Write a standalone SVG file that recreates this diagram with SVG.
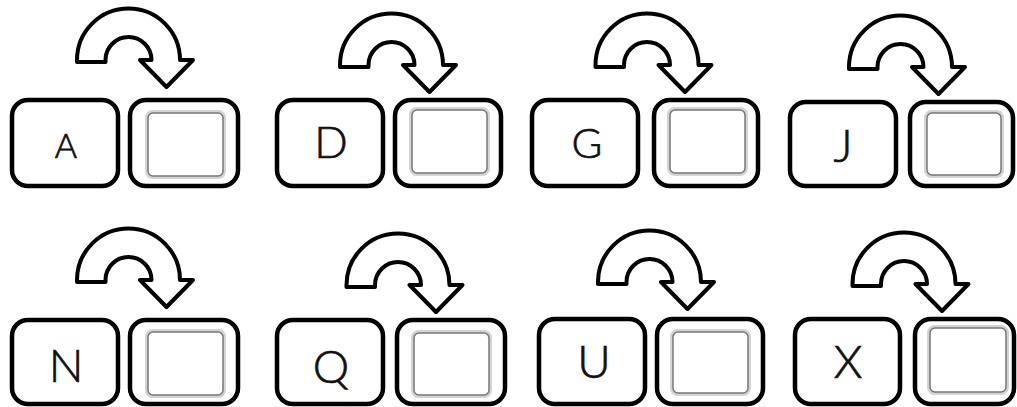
<svg xmlns="http://www.w3.org/2000/svg" width="1017" height="407" viewBox="0 0 1017 407">
<style>
.box{fill:#fff;stroke:#000;stroke-width:4.5}
.ans{fill:#fff;stroke:#000;stroke-width:4.5}
.inhalo{fill:none;stroke:#d4d4d4;stroke-width:3}
.in{fill:#fff;stroke:#777;stroke-width:1.5}
.arrow{fill:#fff;stroke:#000;stroke-width:4;stroke-linejoin:round}
.lbl{font-family:"Lato","Open Sans",sans-serif;font-weight:300;fill:#111;stroke:#111;stroke-width:0.7;text-anchor:middle}
</style>
<defs>
<path id="arr" d="M -51.5 2 L -51.5 0 A 51.5 51.5 0 0 1 51.5 0 L 64.5 0 L 38 27 L 11.5 0 L 23 0 A 23 23 0 0 0 -23 0 L -23 2 Z"/>
</defs>
<rect width="1017" height="407" fill="#fff"/>

<g id="node-A">
<rect class="box" x="12" y="100" width="106" height="86" rx="16"/>
<text class="lbl" x="66" y="158" font-size="34">A</text>
</g>
<g id="node-A-answer">
<rect class="ans" x="130" y="100" width="108" height="86" rx="16"/>
<rect class="inhalo" x="146.5" y="111.5" width="78" height="66" rx="6"/>
<rect class="in" x="148" y="113" width="75" height="63" rx="5"/>
</g>

<g id="node-D">
<rect class="box" x="277" y="100" width="106" height="86" rx="16"/>
<text class="lbl" x="331" y="158" font-size="44">D</text>
</g>
<g id="node-D-answer">
<rect class="ans" x="395" y="100" width="106" height="86" rx="16"/>
<rect class="inhalo" x="410.5" y="108.5" width="78" height="66" rx="6"/>
<rect class="in" x="412" y="110" width="75" height="63" rx="5"/>
</g>

<g id="node-G">
<rect class="box" x="532" y="100" width="106" height="86" rx="16"/>
<text class="lbl" x="587" y="158" font-size="42">G</text>
</g>
<g id="node-G-answer">
<rect class="ans" x="654" y="100" width="104" height="86" rx="16"/>
<rect class="inhalo" x="668.5" y="108.5" width="78" height="66" rx="6"/>
<rect class="in" x="670" y="110" width="75" height="63" rx="5"/>
</g>

<g id="node-J">
<rect class="box" x="790" y="102" width="106" height="84" rx="16"/>
<text class="lbl" x="843" y="162" font-size="46">J</text>
</g>
<g id="node-J-answer">
<rect class="ans" x="910" y="102" width="103" height="84" rx="16"/>
<rect class="inhalo" x="925.5" y="111.5" width="77" height="65" rx="6"/>
<rect class="in" x="927" y="113" width="74" height="62" rx="5"/>
</g>

<g id="node-N">
<rect class="box" x="12" y="320" width="106" height="84" rx="16"/>
<text class="lbl" x="66" y="382" font-size="46">N</text>
</g>
<g id="node-N-answer">
<rect class="ans" x="130" y="320" width="108" height="84" rx="16"/>
<rect class="inhalo" x="146.5" y="330.5" width="78" height="66" rx="6"/>
<rect class="in" x="148" y="332" width="75" height="63" rx="5"/>
</g>

<g id="node-Q">
<rect class="box" x="277" y="320" width="106" height="84" rx="16"/>
<text class="lbl" x="331" y="383" font-size="46">Q</text>
</g>
<g id="node-Q-answer">
<rect class="ans" x="397" y="320" width="108" height="84" rx="16"/>
<rect class="inhalo" x="412.5" y="331.5" width="78" height="65" rx="6"/>
<rect class="in" x="414" y="333" width="75" height="62" rx="5"/>
</g>

<g id="node-U">
<rect class="box" x="539" y="319" width="106" height="85" rx="16"/>
<text class="lbl" x="594" y="378" font-size="46">U</text>
</g>
<g id="node-U-answer">
<rect class="ans" x="657" y="319" width="106" height="85" rx="16"/>
<rect class="inhalo" x="671.5" y="330.5" width="78" height="64" rx="6"/>
<rect class="in" x="673" y="332" width="75" height="61" rx="5"/>
</g>

<g id="node-X">
<rect class="box" x="795" y="319" width="105" height="85" rx="16"/>
<text class="lbl" x="848" y="378" font-size="46">X</text>
</g>
<g id="node-X-answer">
<rect class="ans" x="915" y="319" width="99" height="85" rx="16"/>
<rect class="inhalo" x="928.5" y="326.5" width="79" height="67" rx="6"/>
<rect class="in" x="930" y="328" width="76" height="64" rx="5"/>
</g>

<g id="connectors">
<use href="#arr" class="arrow" transform="translate(128.5,60)"/>
<use href="#arr" class="arrow" transform="translate(391.5,65)"/>
<use href="#arr" class="arrow" transform="translate(647,65)"/>
<use href="#arr" class="arrow" transform="translate(900.5,67)"/>
<use href="#arr" class="arrow" transform="translate(128.5,280)"/>
<use href="#arr" class="arrow" transform="translate(398,285)"/>
<use href="#arr" class="arrow" transform="translate(649.5,282)"/>
<use href="#arr" class="arrow" transform="translate(904,284)"/>
</g>
</svg>
